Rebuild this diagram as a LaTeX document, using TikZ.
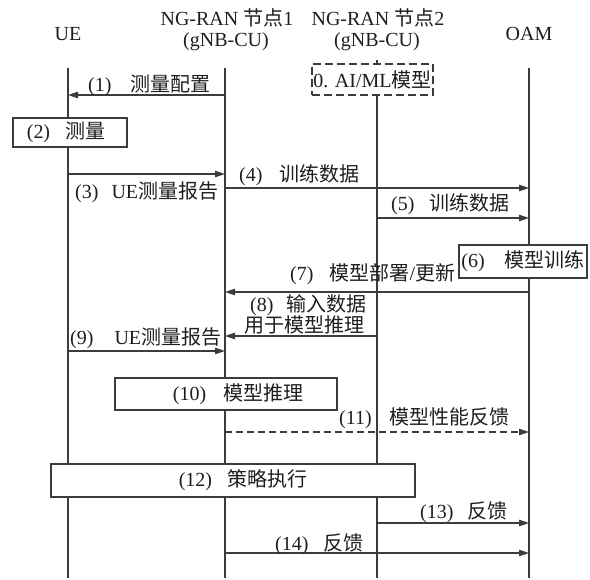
\documentclass[tikz,border=0pt]{standalone}
\usepackage{fontspec}
\setmainfont{Liberation Serif}
\newfontfamily\cjkfont{Noto Sans CJK SC}
\newcommand{\zh}[1]{{\cjkfont #1}}
\usetikzlibrary{arrows.meta}
\definecolor{lc}{HTML}{3C3C3C}
\definecolor{tc}{HTML}{1E1E1E}
\begin{document}
\begin{tikzpicture}[x=1pt,y=-1pt,
  font=\fontsize{20}{23}\selectfont,
  hdr/.style={inner sep=0pt, text=tc},
  life/.style={draw=lc, line width=1.1pt},
  msg/.style={draw=lc, line width=1.1pt, -{Triangle[length=10pt,width=6.5pt]}},
  lbl/.style={inner sep=0pt, anchor=west, text=tc},
  stepbox/.style={draw=lc, line width=1.1pt, fill=white, inner sep=0pt, text=tc}]
\useasboundingbox (0,0) rectangle (590,580);

% headers
\node[hdr] (ueh) at (68,34) {UE};
\node[hdr] (n1ha) at (227,18) {NG-RAN \zh{节点}1};
\node[hdr] (n1hb) at (226,42) {(gNB-CU)};
\node[hdr] (n2ha) at (378,18) {NG-RAN \zh{节点}2};
\node[hdr] (n2hb) at (377,42) {(gNB-CU)};
\node[hdr] (oamh) at (529,34) {OAM};

% lifelines
\coordinate (ue-t) at (68,68);   \coordinate (ue-b) at (68,578);
\coordinate (n1-t) at (225,68);  \coordinate (n1-b) at (225,578);
\coordinate (n2-t) at (377,60);  \coordinate (n2-b) at (377,578);
\coordinate (oam-t) at (529,68); \coordinate (oam-b) at (529,578);
\draw[life] (ue-t) -- (ue-b);
\draw[life] (n1-t) -- (n1-b);
\draw[life] (n2-t) -- (n2-b);
\draw[life] (oam-t) -- (oam-b);

% boxes
\node[stepbox, dash pattern=on 8pt off 4pt, minimum width=121pt, minimum height=31pt] (ai) at (372.5,79.5) {0. AI/ML\zh{模型}};
\node[stepbox, minimum width=114pt, minimum height=29pt] (s2) at (70,132.5) {(2)\hspace{0.75em}\zh{测量}\hspace*{8pt}};
\node[stepbox, minimum width=128pt, minimum height=33pt] (s6) at (523,261.5) {(6)\hspace{1em}\zh{模型训练}};
\node[stepbox, minimum width=222pt, minimum height=32pt] (s10) at (226,394) {\hspace*{24pt}(10)\hspace{0.85em}\zh{模型推理}};
\node[stepbox, minimum width=364pt, minimum height=33pt] (s12) at (233,480.5) {\hspace*{20pt}(12)\hspace{0.75em}\zh{策略执行}};

% messages
\coordinate (m1a) at (225,95);  \coordinate (m1b) at (68,95);
\coordinate (m3a) at (68,174);  \coordinate (m3b) at (225,174);
\coordinate (m4a) at (225,188); \coordinate (m4b) at (529,188);
\coordinate (m5a) at (377,218); \coordinate (m5b) at (529,218);
\coordinate (m7a) at (529,292); \coordinate (m7b) at (225,292);
\coordinate (m8a) at (377,336); \coordinate (m8b) at (225,336);
\coordinate (m9a) at (68,351);  \coordinate (m9b) at (225,351);
\coordinate (m11a) at (225,432); \coordinate (m11b) at (529,432);
\coordinate (m13a) at (377,523); \coordinate (m13b) at (529,523);
\coordinate (m14a) at (225,553); \coordinate (m14b) at (529,553);

\draw[msg] (m1a) -- (m1b);
\draw[msg] (m3a) -- (m3b);
\draw[msg] (m4a) -- (m4b);
\draw[msg] (m5a) -- (m5b);
\draw[msg] (m7a) -- (m7b);
\draw[msg] (m8a) -- (m8b);
\draw[msg] (m9a) -- (m9b);
\draw[msg, dash pattern=on 7pt off 4pt] (m11a) -- (m11b);
\draw[msg] (m13a) -- (m13b);
\draw[msg] (m14a) -- (m14b);

% labels
\node[lbl] (l1) at (88,85) {(1)\hspace{0.95em}\zh{测量配置}};
\node[lbl] (l3) at (75,192) {(3)\hspace{0.65em}UE\zh{测量报告}};
\node[lbl] (l4) at (239,175) {(4)\hspace{0.85em}\zh{训练数据}};
\node[lbl] (l5) at (391,204) {(5)\hspace{0.75em}\zh{训练数据}};
\node[lbl] (l7) at (290,274) {(7)\hspace{0.8em}\zh{模型部署}/\zh{更新}};
\node[lbl] (l8a) at (250,305) {(8)\hspace{0.65em}\zh{输入数据}};
\node[lbl] (l8b) at (244,325) {\zh{用于模型推理}};
\node[lbl] (l9) at (70,338) {(9)\hspace{1.05em}UE\zh{测量报告}};
\node[lbl] (l11) at (339,418) {(11)\hspace{0.9em}\zh{模型性能反馈}};
\node[lbl] (l13) at (420,512) {(13)\hspace{0.7em}\zh{反馈}};
\node[lbl] (l14) at (275,544) {(14)\hspace{0.75em}\zh{反馈}};
\end{tikzpicture}
\end{document}
